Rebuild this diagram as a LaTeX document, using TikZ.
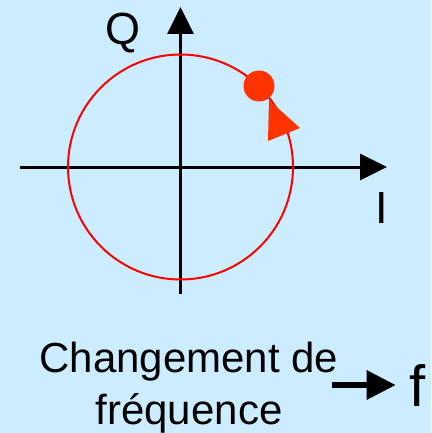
\documentclass[tikz,border=0pt]{standalone}
\usepackage{fontspec}
\setmainfont{Liberation Sans}
\usetikzlibrary{positioning,arrows.meta}

\definecolor{skyback}{RGB}{204,236,255}
\definecolor{dotred}{RGB}{255,51,0}

\tikzset{
  axis/.style={line width=3pt, -{Triangle[length=27pt,width=26pt]}},
  label/.style={font=\fontsize{45}{54}\selectfont, inner sep=0pt},
}

\begin{document}
\begin{tikzpicture}[x=1pt, y=-1pt]
    % background
    \fill[skyback] (0,0) rectangle (431,433);
    \useasboundingbox (0,0) rectangle (431,433);

    % I/Q axes
    \coordinate (origin) at (180.5,167);
    \coordinate (iwest) at (20,167);
    \coordinate (ieast) at (387,167);
    \coordinate (qsouth) at (180.5,294);
    \coordinate (qnorth) at (180.5,7);
    \draw[axis] (iwest) -- (ieast);
    \draw[axis] (qsouth) -- (qnorth);

    % constellation circle
    \node[circle, draw=red, line width=2pt, minimum size=225pt, inner sep=0pt] (loop) at (origin) {};

    % rotating point
    \node[circle, fill=dotred, minimum size=31pt, inner sep=0pt] (dot) at (259,86) {};
    \fill[dotred] (269,100) -- (300,128) -- (268,141) -- cycle;

    % Labels
    \node[label, anchor=base] (qlabel) at (123,45) {Q};
    \node[label, anchor=base] (ilabel) at (382,223) {I};

    \node[align=center, anchor=base, inner sep=0pt,
          font=\fontsize{42}{52}\selectfont] (chg) at (189,424) {Changement de\\fréquence};
    \node[anchor=base, inner sep=0pt, font=\fontsize{58}{60}\selectfont] (freq) at (418,406) {f};
    \coordinate (shaft) at (332,385);
    \draw[line width=6pt, -{Triangle[length=29pt,width=28pt]}, shorten >=14pt] (shaft) -- (shaft -| freq.west);
\end{tikzpicture}
\end{document}
